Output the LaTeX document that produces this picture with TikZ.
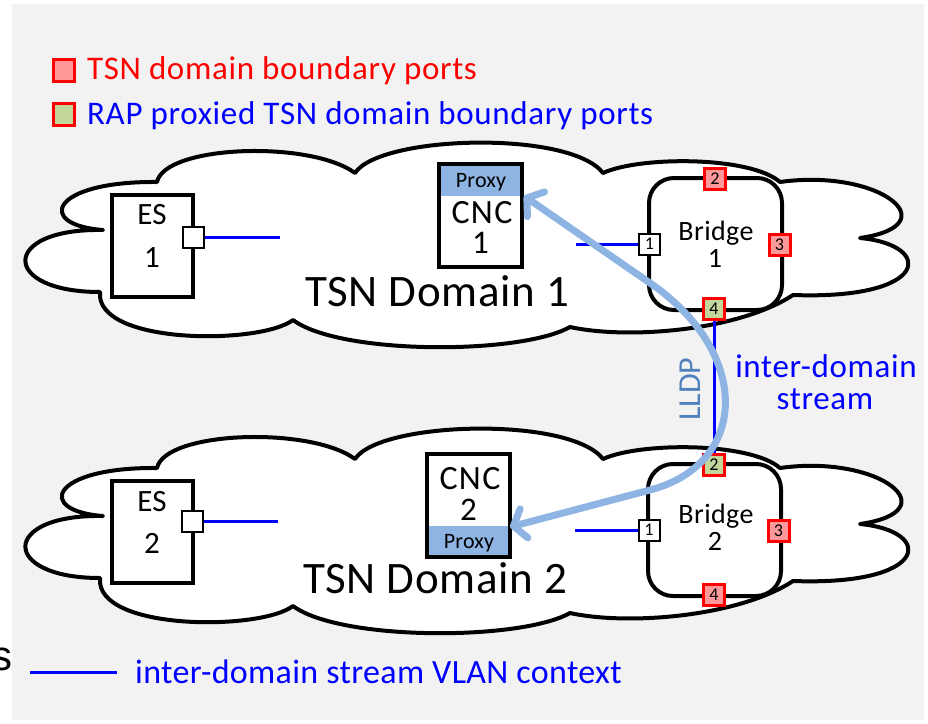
\documentclass[tikz,border=0pt]{standalone}
\usepackage{fontspec}
\setmainfont{Carlito}
\newfontfamily\arialfont{Liberation Sans}
\usetikzlibrary{arrows.meta}
\definecolor{bg}{HTML}{F2F2F2}
\definecolor{vblue}{HTML}{0000FF}
\definecolor{pinkfill}{HTML}{FF9999}
\definecolor{greenfill}{HTML}{C3D69B}
\definecolor{proxyblue}{HTML}{8DB4E2}
\definecolor{arrowblue}{HTML}{8DB4E2}
\definecolor{lldpcol}{HTML}{4F81BD}
\newcommand\myfs[1]{\fontsize{#1}{#1}\selectfont}
\newcommand\myls[1]{\addfontfeature{LetterSpace=#1}}
\tikzset{
  cloudsty/.style={draw=black, fill=white, line width=4pt, line join=round},
  esbox/.style={draw=black, fill=white, line width=4pt, inner sep=0, minimum width=81pt, minimum height=102pt},
  cncbox/.style={draw=black, fill=white, line width=4pt, inner sep=0, minimum width=83pt, minimum height=103pt},
  bridgebox/.style={draw=black, fill=white, line width=4pt, rounded corners=25pt, inner sep=0, minimum width=133pt, minimum height=132pt},
  prt/.style={draw=black, fill=white, line width=2pt, minimum width=21pt, minimum height=21pt, inner sep=0, font=\myfs{18}},
  redprt/.style={prt, draw=red, fill=pinkfill, line width=3pt},
  grnprt/.style={prt, draw=red, fill=greenfill, line width=3pt},
  vlan/.style={draw=vblue, line width=3pt},
  txt/.style={inner sep=0, anchor=base},
  txtw/.style={inner sep=0, anchor=base west},
  bigarrow/.style={draw=arrowblue, line width=7pt, line cap=round,
    {Straight Barb[length=11pt,width=30pt,round]}-{Straight Barb[length=11pt,width=30pt,round]}}
}
\begin{document}
\begin{tikzpicture}[x=1pt,y=-1pt]
\useasboundingbox (0,0) rectangle (928,723);
\fill[bg] (12,4) rectangle (924,720);

% clouds
\foreach \dy in {0,286}{
\draw[cloudsty, shift={(0,\dy)}] (103,230) .. controls (35,225) and (50,181) .. (157,182)
 .. controls (165,145) and (310,140) .. (355,173)
 .. controls (380,135) and (570,130) .. (603,173)
 .. controls (640,156) and (750,156) .. (780,182)
 .. controls (880,168) and (950,225) .. (860,238)
 .. controls (935,245) and (930,300) .. (793,295)
 .. controls (740,330) and (630,340) .. (570,327)
 .. controls (520,355) and (340,355) .. (293,320)
 .. controls (260,345) and (95,345) .. (100,292)
 .. controls (0,292) and (0,228) .. cycle;
}

% legend
\node[redprt, minimum width=21pt, minimum height=22pt] (lg1) at (64,70) {};
\node[txtw, text=red, font=\myfs{33}\myls{2}] (lt1) at (87,79) {TSN domain boundary ports};
\node[grnprt, minimum width=21pt, minimum height=22pt] (lg2) at (64,114) {};
\node[txtw, text=vblue, font=\myfs{33}\myls{2}] (lt2) at (87,124) {RAP proxied TSN domain boundary ports};

% domain titles
\node[txtw, font=\myfs{45}\myls{1.6}] (d1) at (305,306) {TSN Domain 1};
\node[txtw, font=\myfs{45}\myls{1.6}] (d2) at (303,593) {TSN Domain 2};

% ES boxes
\node[esbox] (es1) at (152.5,246) {};
\node[txt, font=\myfs{31}] at (152,224) {ES};
\node[txt, font=\myfs{31}] at (152,267) {1};
\node[prt] (es1p) at (193.5,237) {};
\coordinate (es1e) at (280,237);
\draw[vlan] (es1p.east) -- (es1e);

\node[esbox] (es2) at (152,532) {};
\node[txt, font=\myfs{31}] at (152,511) {ES};
\node[txt, font=\myfs{31}] at (152,553) {2};
\node[prt] (es2p) at (192.5,521) {};
\coordinate (es2e) at (278,521);
\draw[vlan] (es2p.east) -- (es2e);

% CNC boxes
\node[cncbox, path picture={\fill[proxyblue] (path picture bounding box.north west) rectangle ([yshift=-32pt]path picture bounding box.north east);}] (cnc1) at (480.5,215.5) {};
\node[txt, font=\myfs{22}\myls{1}] at (481,187) {Proxy};
\node[txt, font=\myfs{34}\myls{4}] at (482,223) {CNC};
\node[txt, font=\myfs{33}] at (480.5,253) {1};

\node[cncbox, path picture={\fill[proxyblue] (path picture bounding box.south west) rectangle ([yshift=31pt]path picture bounding box.south east);}] (cnc2) at (468.5,505) {};
\node[txt, font=\myfs{34}\myls{4}] at (470,489) {CNC};
\node[txt, font=\myfs{33}] at (468.5,520) {2};
\node[txt, font=\myfs{22}\myls{1}] at (469,548) {Proxy};

% bridges
\node[bridgebox] (br1) at (715.5,244) {};
\node[txt, font=\myfs{28}\myls{1.5}] at (716,240) {Bridge};
\node[txt, font=\myfs{28}] at (715,267) {1};
\node[redprt] (b1p2) at (715,179) {2};
\node[redprt] (b1p3) at (779.5,244.5) {3};
\node[prt] (b1p1) at (649.5,244) {1};
\node[grnprt] (b1p4) at (714,308.5) {4};
\coordinate (b1e) at (576,244);
\draw[vlan] (b1p1.west) -- (b1e);

\node[bridgebox] (br2) at (714.5,530) {};
\node[txt, font=\myfs{28}\myls{1.5}] at (716,523) {Bridge};
\node[txt, font=\myfs{28}] at (715,550) {2};
\node[grnprt] (b2p2) at (714,465) {2};
\node[redprt] (b2p3) at (778.5,531) {3};
\node[prt] (b2p1) at (649,530) {1};
\node[redprt] (b2p4) at (714,595) {4};
\coordinate (b2e) at (575,530);
\draw[vlan] (b2p1.west) -- (b2e);

% inter-domain link
\draw[vlan] (b1p4.south) -- (b2p2.north);
\node[inner sep=0, anchor=base west, rotate=90, text=lldpcol, font=\myfs{32}] (lldp) at (700,421) {LLDP};
\node[txt, text=vblue, font=\myfs{33}\myls{2}] (ids1) at (826,377) {inter-domain};
\node[txt, text=vblue, font=\myfs{33}\myls{2}] (ids2) at (825,409) {stream};

% big arrow
\coordinate (tip1) at (524,196);
\coordinate (tip2) at (510,527);
\coordinate (w1) at (650,283);
\coordinate (w2) at (650,490);
\draw[bigarrow] (tip2) -- (w2) .. controls (749,464) and (752,353) .. (w1) -- (tip1);

% bottom legend
\node[inner sep=0, anchor=base east, font=\arialfont\myfs{42}] (sx) at (13,670) {s};
\coordinate (bl1) at (30,672);
\coordinate (bl2) at (117,672);
\draw[vlan] (bl1) -- (bl2);
\node[txtw, text=vblue, font=\myfs{34}\myls{1}] (blt) at (135,683) {inter-domain stream VLAN context};
\end{tikzpicture}
\end{document}
